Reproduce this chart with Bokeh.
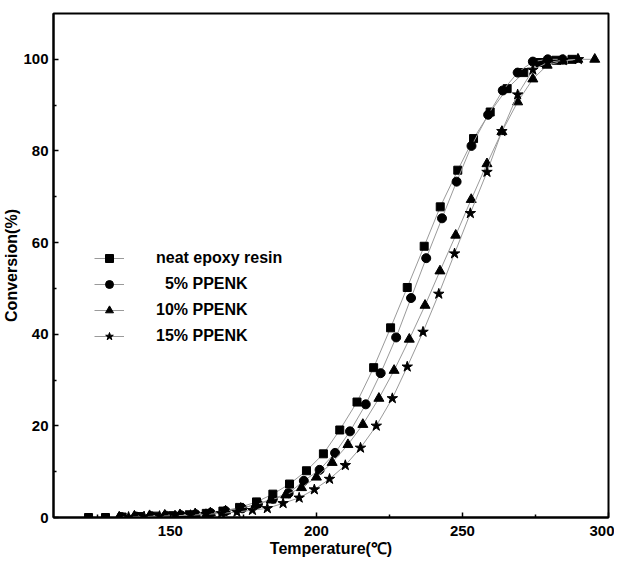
from bokeh.plotting import figure
from bokeh.models import Legend, LegendItem, FixedTicker, Range1d
from bokeh.embed import file_html
from bokeh.resources import INLINE

# ---- data ----
neat_x = [122, 127.8, 133.5, 139.3, 145, 150.8, 156.5, 162.3, 168, 173.7, 179.5, 185.1, 190.8,
          196.6, 202.4, 208, 213.9, 219.6, 225.4, 231.1, 236.9, 242.4, 248.4, 253.8, 259.5,
          265.3, 271, 276.5, 282, 287.5]
neat_y = [0, 0, 0.1, 0.2, 0.3, 0.4, 0.6, 0.9, 1.4, 2.2, 3.4, 5.1, 7.3,
          10.2, 13.9, 19.1, 25.2, 32.7, 41.4, 50.2, 59.2, 67.8, 75.8, 82.7, 88.5,
          93.6, 97.1, 99.3, 99.8, 100]

p5_x = [133.2, 138.3, 143.4, 148.5, 153.6, 158.7, 163.8, 168.9, 174.6, 180, 185.1, 190.5,
        195.7, 201.1, 206.4, 211.5, 216.9, 222, 227.3, 232.4, 237.6, 243, 248, 253.1,
        258.8, 263.8, 268.9, 274.1, 279.2, 284.3]
p5_y = [0.1, 0.2, 0.3, 0.4, 0.5, 0.7, 1.0, 1.4, 2.0, 3.0, 4.1, 5.3,
        8.0, 10.4, 14.1, 18.8, 24.7, 31.5, 39.3, 47.9, 56.6, 65.3, 73.3, 81.1,
        87.9, 93.2, 97.1, 99.5, 100, 100]

p10_x = [132.5, 137.7, 142.9, 148.1, 153.3, 158.5, 163.7, 168.9, 174.1, 179.3, 184.5, 189.5,
         194.9, 200, 205.4, 210.8, 215.9, 221.4, 226.6, 231.8, 237.2, 242.3, 247.7, 253,
         258.4, 263.5, 268.9, 274.1, 279, 284.2, 289.5, 295.3]
p10_y = [0.1, 0.3, 0.4, 0.5, 0.6, 0.8, 1.0, 1.4, 2.0, 2.8, 3.8, 4.9,
         6.5, 8.8, 12, 15.9, 20.3, 26, 32.1, 38.9, 46.3, 53.8, 61.6, 69.4,
         77.2, 84.2, 90.7, 95.7, 98.7, 99.6, 100, 100]

p15_x = [135.7, 141, 146.3, 151.6, 156.9, 162.2, 167.5, 172.8, 178.1, 183.2, 188.6, 194.1,
         199.3, 204.5, 209.9, 215.1, 220.5, 226, 231.1, 236.5, 241.9, 247.3, 252.7, 258.4,
         263.5, 268.9, 274.1, 279.2, 284.5, 289.7]
p15_y = [0.1, 0.2, 0.3, 0.4, 0.5, 0.7, 0.9, 1.2, 1.6, 2.0, 3.1, 4.3,
         6.1, 8.4, 11.4, 15.2, 20, 26, 32.9, 40.5, 48.8, 57.6, 66.4, 75.4,
         84.3, 92.3, 97.7, 99.3, 99.8, 100]

labels = ["neat epoxy resin", "\u20075% PPENK", "10% PPENK", "15% PPENK"]
markers = ["square", "circle", "triangle", "star"]
x_ticks = [150, 200, 250, 300]
y_ticks = [0, 20, 40, 60, 80, 100]

FONT = "Liberation Sans"

p = figure(width=614, height=559, output_backend="svg", toolbar_location=None,
           x_range=Range1d(110, 300), y_range=Range1d(0, 110),
           min_border_left=46, min_border_top=13, min_border_right=6, min_border_bottom=10)
p.grid.visible = False
p.outline_line_color = "black"
p.outline_line_width = 2
p.background_fill_color = "white"

series = [(neat_x, neat_y), (p5_x, p5_y), (p10_x, p10_y), (p15_x, p15_y)]
sizes = [8, 9, 10, 11]
items = []
for (xs, ys), lab, mk, sz in zip(series, labels, markers, sizes):
    ln = p.line(xs, ys, line_color="#9a9a9a", line_width=1)
    sc = p.scatter(xs, ys, marker=mk, size=sz, fill_color="black", line_color="black")
    items.append(LegendItem(label=lab, renderers=[ln, sc]))

legend = Legend(items=items, location=(41, 171), padding=0, margin=0,
                border_line_alpha=0, background_fill_alpha=0,
                glyph_width=30, glyph_height=20, spacing=6, label_standoff=32,
                label_text_font=FONT, label_text_font_style="bold",
                label_text_font_size="16px", label_text_color="black")
p.add_layout(legend, "center")

for ax in (p.xaxis[0], p.yaxis[0]):
    ax.axis_line_width = 2
    ax.axis_line_color = "black"
    ax.major_tick_in = 5
    ax.major_tick_out = 0
    ax.minor_tick_in = 3
    ax.minor_tick_out = 0
    ax.major_tick_line_width = 1.5
    ax.minor_tick_line_width = 1.5
    ax.major_label_text_font = FONT
    ax.major_label_text_font_style = "bold"
    ax.major_label_text_font_size = "15px"
    ax.major_label_text_color = "black"
    ax.axis_label_text_font = FONT
    ax.axis_label_text_font_style = "bold"
    ax.axis_label_text_font_size = "16px"
    ax.axis_label_text_color = "black"

p.xaxis.ticker = FixedTicker(ticks=x_ticks, minor_ticks=[125, 175, 225, 275])
p.yaxis.ticker = FixedTicker(ticks=y_ticks, minor_ticks=[10, 30, 50, 70, 90])
p.xaxis.axis_label = "Temperature(\u2103)"
p.yaxis.axis_label = "Conversion(%)"
p.xaxis.major_label_standoff = 8
p.yaxis.major_label_standoff = 5
p.xaxis.axis_label_standoff = 1
p.yaxis.axis_label_standoff = 0

open("out.html", "w").write(file_html(p, INLINE))
